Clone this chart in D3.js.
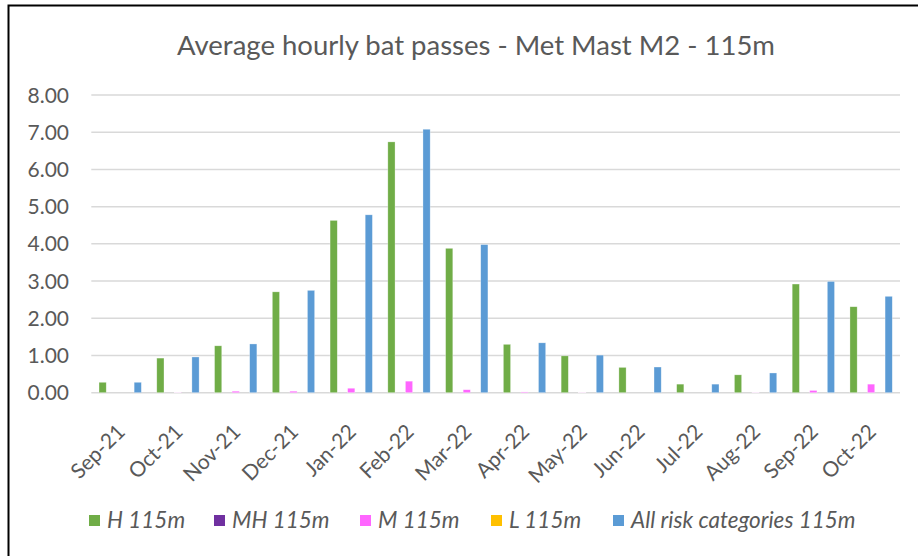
<!DOCTYPE html>
<html>
<head>
<meta charset="utf-8">
<script src="https://cdn.jsdelivr.net/npm/d3@7"></script>
<style>
  body { margin: 0; background: #fff; }
  svg { display: block; font-family: Lato, "Open Sans", sans-serif; }
</style>
</head>
<body>
<svg id="chart" width="918" height="556"></svg>
<script>
const months = ["Sep-21", "Oct-21", "Nov-21", "Dec-21", "Jan-22", "Feb-22", "Mar-22",
                "Apr-22", "May-22", "Jun-22", "Jul-22", "Aug-22", "Sep-22", "Oct-22"];

const seriesNames = ["H 115m", "MH 115m", "M 115m", "L 115m", "All risk categories 115m"];
const seriesColors = ["#70ad47", "#7030a0", "#ff66ff", "#ffc000", "#5b9bd5"];

const hValues   = [0.28, 0.93, 1.26, 2.71, 4.63, 6.74, 3.88, 1.30, 0.99, 0.68, 0.23, 0.48, 2.92, 2.31];
const mhValues  = [0, 0, 0, 0, 0, 0, 0, 0, 0, 0, 0, 0, 0, 0];
const mValues   = [0, 0.01, 0.04, 0.04, 0.12, 0.31, 0.08, 0.02, 0.01, 0, 0, 0.01, 0.06, 0.23];
const lValues   = [0, 0, 0, 0, 0, 0, 0, 0, 0, 0, 0, 0, 0, 0];
const allValues = [0.28, 0.96, 1.31, 2.75, 4.78, 7.08, 3.98, 1.34, 1.01, 0.69, 0.23, 0.53, 2.99, 2.59];

const yTicks = [0, 1, 2, 3, 4, 5, 6, 7, 8];

const seriesValues = [hValues, mhValues, mValues, lValues, allValues];

const svg = d3.select("#chart");
const textColor = "#595959";

// chart frame
svg.append("rect")
    .attr("x", 8.5).attr("y", 5.5)
    .attr("width", 930).attr("height", 570)
    .attr("fill", "none")
    .attr("stroke", "#000")
    .attr("stroke-width", 2);

svg.append("text")
    .attr("x", 476).attr("y", 55)
    .attr("text-anchor", "middle")
    .attr("fill", textColor)
    .style("font-size", "27.5px")
    .text("Average hourly bat passes - Met Mast M2 - 115m");

const y = d3.scaleLinear().domain([0, 8]).range([392.7, 95]);

const x0 = d3.scaleBand()
    .domain(months)
    .range([91.3, 900])
    .paddingInner(0.24)
    .paddingOuter(0.12);

const x1 = d3.scaleBand()
    .domain(seriesNames)
    .range([0, x0.bandwidth()])
    .paddingInner(0.18)
    .paddingOuter(0.09);

// gridlines
svg.append("g")
    .selectAll("line")
    .data(yTicks)
    .join("line")
    .attr("x1", 91.3).attr("x2", 900)
    .attr("y1", d => y(d)).attr("y2", d => y(d))
    .attr("stroke", "#d9d9d9")
    .attr("stroke-width", 1.5);

// y labels
svg.append("g")
    .selectAll("text")
    .data(yTicks)
    .join("text")
    .attr("x", 69)
    .attr("y", d => y(d))
    .attr("dy", "0.36em")
    .attr("text-anchor", "end")
    .attr("fill", textColor)
    .style("font-size", "21px")
    .text(d => d3.format(".2f")(d));

// bars
const rows = months.map((m, i) => ({
    month: m,
    values: seriesNames.map((s, j) => ({ series: s, color: seriesColors[j], value: seriesValues[j][i] }))
}));

svg.append("g")
    .selectAll("g")
    .data(rows)
    .join("g")
    .attr("transform", d => `translate(${x0(d.month)},0)`)
    .selectAll("rect")
    .data(d => d.values.filter(v => v.value > 0))
    .join("rect")
    .attr("x", d => x1(d.series))
    .attr("width", x1.bandwidth())
    .attr("y", d => y(d.value))
    .attr("height", d => y(0) - y(d.value))
    .attr("fill", d => d.color)
    .attr("stroke", "rgba(255,255,255,0.5)")
    .attr("stroke-width", 0.6);

// x labels
svg.append("g")
    .selectAll("text")
    .data(months)
    .join("text")
    .attr("transform", d => `translate(${x0(d) + x0.bandwidth() / 2 - 5},${422}) rotate(-45)`)
    .attr("dy", "0.75em")
    .attr("text-anchor", "end")
    .attr("fill", textColor)
    .style("font-size", "21px")
    .text(d => d);

// legend
const legendX = [89, 214, 360, 491, 613];
const legend = svg.append("g")
    .selectAll("g")
    .data(seriesNames)
    .join("g")
    .attr("transform", (d, i) => `translate(${legendX[i]},515)`);

legend.append("rect")
    .attr("width", 11).attr("height", 11)
    .attr("fill", (d, i) => seriesColors[i]);

legend.append("text")
    .attr("x", 18).attr("y", 13)
    .attr("fill", textColor)
    .style("font-size", "22.5px")
    .style("font-style", "italic")
    .text(d => d);
</script>
</body>
</html>
